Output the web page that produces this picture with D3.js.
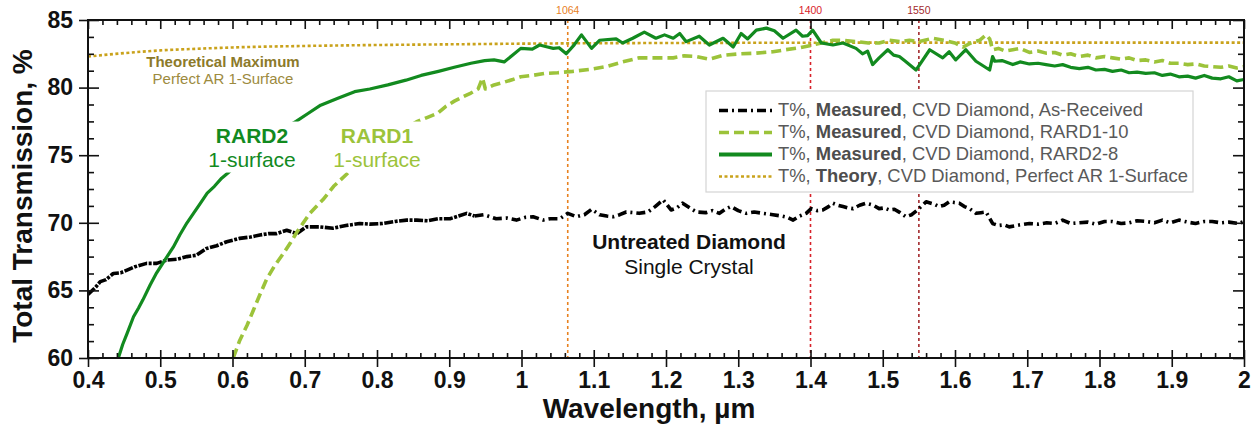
<!DOCTYPE html>
<html lang="en">
<head>
<meta charset="utf-8">
<title>CVD Diamond transmission, RARD</title>
<script src="https://cdnjs.cloudflare.com/ajax/libs/d3/7.8.5/d3.min.js"></script>
<style>
body { margin: 0; background: #fff; }
svg { font-family: "Liberation Sans", Arial, sans-serif; }
</style>
</head>
<body>
<script>
// Theory, perfect AR on 1 surface
var wlTheory = [0.4, 0.45, 0.5, 0.55, 0.6, 0.7, 0.8, 0.9, 1.0, 1.2, 1.4, 1.6, 1.8, 2.0];
var tTheory  = [82.3, 82.55, 82.75, 82.87, 82.97, 83.08, 83.15, 83.2, 83.25, 83.3, 83.32, 83.33, 83.33, 83.33];

// Measured, as-received
var wlAsRec = [0.4,0.41,0.417,0.425,0.435,0.445,0.454,0.465,0.481,0.495,0.509,0.523,0.537,0.55,0.564,0.578,0.592,0.61,0.625,0.638,0.65,0.661,0.675,0.689,0.702,0.72,0.739,0.757,0.776,0.79,0.808,0.825,0.841,0.855,0.87,0.885,0.901,0.913,0.924,0.935,0.948,0.965,0.98,0.993,1.005,1.016,1.03,1.04,1.053,1.064,1.076,1.087,1.097,1.108,1.118,1.127,1.136,1.145,1.155,1.163,1.175,1.185,1.196,1.207,1.215,1.223,1.233,1.242,1.255,1.264,1.274,1.282,1.29,1.3,1.311,1.322,1.334,1.348,1.36,1.368,1.376,1.385,1.394,1.401,1.409,1.417,1.425,1.431,1.438,1.445,1.452,1.459,1.468,1.477,1.487,1.495,1.502,1.509,1.516,1.524,1.532,1.54,1.548,1.555,1.56,1.57,1.578,1.585,1.592,1.599,1.606,1.613,1.62,1.629,1.636,1.643,1.652,1.66,1.668,1.675,1.69,1.703,1.715,1.727,1.738,1.749,1.76,1.772,1.784,1.795,1.807,1.818,1.83,1.841,1.852,1.864,1.876,1.887,1.898,1.91,1.922,1.933,1.945,1.956,1.968,1.979,1.993,2.0];
var tAsRec  = [64.7,65.2,65.65,65.8,66.25,66.3,66.5,66.75,67.0,67.0,67.25,67.3,67.5,67.6,68.1,68.3,68.6,68.85,68.95,69.1,69.2,69.2,69.45,69.2,69.7,69.7,69.6,69.8,69.95,69.9,69.95,70.1,70.2,70.2,70.15,70.3,70.3,70.5,70.7,70.5,70.6,70.3,70.35,70.2,70.4,70.45,70.2,70.3,70.3,70.7,70.45,70.6,71.0,70.6,70.5,70.45,70.6,70.8,70.75,70.7,70.8,71.2,71.7,70.95,71.1,71.45,71.1,70.8,70.75,70.9,70.7,71.0,71.2,70.9,70.7,70.8,70.7,70.6,70.5,70.4,70.2,70.5,70.7,71.05,70.9,70.95,71.2,71.45,71.3,71.2,71.1,71.05,71.3,71.45,71.3,71.05,71.1,70.95,71.0,70.75,70.45,70.6,70.95,71.3,71.55,71.4,71.2,71.3,71.55,71.5,71.45,71.2,71.05,70.7,70.75,70.8,69.95,69.8,69.85,69.7,69.85,69.95,69.9,70.0,69.95,70.2,69.95,70.0,70.05,69.9,70.1,70.1,69.95,70.0,70.15,70.1,70.0,70.2,70.0,70.2,70.05,69.95,70.1,70.1,70.0,70.05,69.95,70.1];

// Measured, RARD1-10
var wlRard1 = [0.601,0.61,0.62,0.629,0.638,0.647,0.658,0.67,0.68,0.689,0.698,0.707,0.716,0.725,0.74,0.76,0.78,0.8,0.82,0.84,0.856,0.87,0.884,0.895,0.907,0.918,0.93,0.94,0.946,0.95,0.962,0.976,0.988,0.999,1.015,1.032,1.05,1.071,1.095,1.117,1.14,1.163,1.185,1.21,1.225,1.242,1.26,1.28,1.302,1.325,1.348,1.365,1.385,1.403,1.415,1.431,1.445,1.463,1.48,1.495,1.509,1.525,1.537,1.55,1.569,1.585,1.6,1.611,1.622,1.634,1.643,1.648,1.652,1.66,1.67,1.68,1.69,1.703,1.715,1.726,1.738,1.749,1.76,1.772,1.784,1.795,1.807,1.818,1.83,1.841,1.852,1.864,1.876,1.887,1.898,1.91,1.922,1.933,1.945,1.956,1.968,1.979,1.99,2.0];
var tRard1  = [60,61.3,62.4,63.55,64.7,65.8,66.8,67.7,68.5,69.3,70.0,70.7,71.2,71.7,72.7,73.7,74.7,75.6,76.3,77.0,77.5,77.8,78.1,78.6,79.0,79.3,79.6,79.9,80.7,79.9,80.2,80.4,80.6,80.8,80.9,81.05,81.1,81.2,81.35,81.55,81.9,82.2,82.2,82.2,82.35,82.3,82.1,82.4,82.5,82.55,82.65,82.8,82.95,83.15,83.3,83.5,83.5,83.4,83.3,83.3,83.5,83.4,83.5,83.4,83.65,83.5,83.3,83.0,83.3,83.5,83.9,83.6,82.8,82.9,82.7,82.8,82.9,82.6,82.7,82.55,82.6,82.4,82.5,82.3,82.4,82.2,82.3,82.2,82.1,82.2,82.0,82.05,81.9,82.0,81.8,81.8,81.7,81.75,81.6,81.55,81.5,81.6,81.45,81.55];

// Measured, RARD2-8
var wlRard2 = [0.442,0.448,0.454,0.463,0.47,0.476,0.486,0.495,0.507,0.518,0.527,0.537,0.546,0.555,0.565,0.575,0.585,0.594,0.62,0.64,0.66,0.675,0.688,0.705,0.722,0.745,0.769,0.79,0.815,0.84,0.861,0.885,0.907,0.93,0.949,0.962,0.976,0.99,0.999,1.015,1.025,1.036,1.044,1.052,1.062,1.072,1.083,1.097,1.108,1.131,1.14,1.154,1.17,1.186,1.198,1.21,1.219,1.228,1.246,1.26,1.279,1.293,1.304,1.313,1.325,1.339,1.35,1.362,1.38,1.389,1.396,1.403,1.415,1.431,1.445,1.463,1.472,1.479,1.486,1.495,1.507,1.515,1.523,1.53,1.546,1.565,1.583,1.592,1.601,1.615,1.629,1.648,1.652,1.655,1.665,1.68,1.69,1.703,1.715,1.726,1.738,1.749,1.76,1.772,1.784,1.795,1.807,1.818,1.83,1.841,1.852,1.864,1.876,1.887,1.898,1.91,1.922,1.933,1.945,1.956,1.968,1.979,1.99,2.0];
var tRard2  = [60,61.0,61.8,63.05,63.7,64.3,65.4,66.3,67.3,68.2,69.1,70.0,70.7,71.4,72.2,72.7,73.3,73.7,75.0,75.9,76.7,77.1,77.5,78.1,78.7,79.2,79.7,79.9,80.2,80.55,80.9,81.2,81.5,81.8,82.0,82.05,81.9,82.5,82.9,82.85,83.15,83.0,82.9,82.95,82.5,83.1,83.9,82.9,83.5,83.6,83.3,83.65,84.1,83.65,83.9,83.65,84.0,83.4,83.8,83.15,83.65,83.0,84.0,83.6,84.25,84.4,84.2,83.65,84.25,83.8,83.85,84.25,83.3,83.15,83.3,82.9,82.5,82.7,81.7,82.2,82.8,82.4,82.3,82.0,81.3,82.8,82.2,82.65,82.05,82.8,81.95,81.3,82.3,81.95,82.0,81.7,81.9,81.75,81.8,81.7,81.6,81.7,81.5,81.4,81.5,81.3,81.35,81.2,81.3,81.1,81.15,81.05,81.1,80.9,81.0,80.8,80.85,80.7,80.9,80.7,80.65,80.8,80.5,80.6];

// laser lines, nm
var laserNm = [1064, 1400, 1550];
var laserColors = ["#e8811f", "#d8222a", "#a3292d"];

var xMajor = d3.range(4, 21).map(function(d) { return d / 10; });
var xMinor = d3.range(20, 101).filter(function(d) { return d % 5 != 0; }).map(function(d) { return d / 50; });
var yMajor = [60, 65, 70, 75, 80, 85];
var yMinor = d3.range(48, 69).filter(function(d) { return d % 4 != 0; }).map(function(d) { return d * 1.25; });

var w = 1255, h = 425;
var x0 = 88, x1 = 1244, y0 = 358, y1 = 20;

var x = d3.scaleLinear().domain([0.4, 2]).range([x0, x1]);
var y = d3.scaleLinear().domain([60, 85]).range([y0, y1]);

var svg = d3.select("body").append("svg")
  .attr("width", w)
  .attr("height", h);

svg.append("clipPath").attr("id", "plotclip")
  .append("rect").attr("x", x0).attr("y", y1).attr("width", x1 - x0).attr("height", y0 - y1);

var zip = function(a, b) { return a.map(function(v, i) { return [v, b[i]]; }); };
var line = d3.line().x(function(d) { return x(d[0]); }).y(function(d) { return y(d[1]); });
var smooth = d3.line().curve(d3.curveMonotoneX).x(function(d) { return x(d[0]); }).y(function(d) { return y(d[1]); });

//laser reference lines
laserNm.forEach(function(nm, i) {
  svg.append("line")
    .attr("x1", x(nm / 1000)).attr("x2", x(nm / 1000))
    .attr("y1", y1).attr("y2", y0)
    .attr("stroke", laserColors[i])
    .attr("stroke-width", 1.6)
    .attr("stroke-dasharray", "3,3");
  svg.append("text")
    .attr("x", x(nm / 1000)).attr("y", 11)
    .attr("text-anchor", "middle")
    .attr("dominant-baseline", "middle")
    .attr("font-size", "10.5px")
    .attr("fill", laserColors[i])
    .text(nm);
});

var series = [
  { data: zip(wlTheory, tTheory), color: "#c9a21b", width: 2.6, dash: "3,2.5", path: smooth },
  { data: zip(wlAsRec, tAsRec), color: "#000", width: 3.6, dash: "9,4,2,4", path: line },
  { data: zip(wlRard1, tRard1), color: "#9cc33a", width: 3.6, dash: "10,5", path: line },
  { data: zip(wlRard2, tRard2), color: "#128a1f", width: 3.2, dash: null, path: line }
];

var plot = svg.append("g").attr("clip-path", "url(#plotclip)");
series.forEach(function(s, i) {
  var parts = [s.data];
  var dashes = [s.dash];
  // the densely sampled short-wave part of the as-received scan reads as an almost solid line
  if (i == 1) {
    parts = [s.data.filter(function(d) { return d[0] <= 0.935; }), s.data.filter(function(d) { return d[0] >= 0.935; })];
    dashes = ["9,1.5,3,1.5", s.dash];
  }
  parts.forEach(function(p, j) {
    plot.append("path")
      .attr("d", s.path(p))
      .attr("fill", "none")
      .attr("stroke", s.color)
      .attr("stroke-width", s.width)
      .attr("stroke-linejoin", "round")
      .attr("stroke-dasharray", dashes[j]);
  });
});

// two-line annotations, with a white backing where they sit on a curve
function note(cx, cy, gap, size, lines, colors, backed) {
  var g = svg.append("g");
  lines.forEach(function(t, i) {
    g.append("text")
      .attr("x", cx).attr("y", cy + i * gap)
      .attr("text-anchor", "middle")
      .attr("dominant-baseline", "middle")
      .attr("font-size", size + "px")
      .attr("font-weight", i == 0 ? "bold" : "normal")
      .attr("fill", colors[i])
      .text(t);
  });
  if (backed) {
    var b = g.node().getBBox();
    g.insert("rect", "text")
      .attr("x", b.x - 4).attr("y", b.y - 2)
      .attr("width", b.width + 8).attr("height", b.height + 4)
      .attr("fill", "#fff");
  }
}
note(223, 63, 17, 15, ["Theoretical Maximum", "Perfect AR 1-Surface"], ["#8c7a2a", "#9c8a3e"], false);
note(252, 137, 24, 21, ["RARD2", "1-surface"], ["#128a1f", "#128a1f"], true);
note(377, 137, 24, 21, ["RARD1", "1-surface"], ["#9cc33a", "#9cc33a"], true);
note(689, 243, 25, 21, ["Untreated Diamond", "Single Crystal"], ["#111", "#111"], false);

// legend
var legendRows = [
  { bold: "Measured", rest: ", CVD Diamond, As-Received", s: series[1] },
  { bold: "Measured", rest: ", CVD Diamond, RARD1-10", s: series[2] },
  { bold: "Measured", rest: ", CVD Diamond, RARD2-8", s: series[3] },
  { bold: "Theory", rest: ", CVD Diamond, Perfect AR 1-Surface", s: series[0] }
];
var lg = svg.append("g");
lg.append("rect")
  .attr("x", 706).attr("y", 91).attr("width", 487).attr("height", 101)
  .attr("fill", "#fff").attr("stroke", "#d4d4d4").attr("stroke-width", 1.2);
legendRows.forEach(function(r, i) {
  var ly = 110.5 + i * 22;
  lg.append("line")
    .attr("x1", 719).attr("x2", 772).attr("y1", ly).attr("y2", ly)
    .attr("stroke", r.s.color)
    .attr("stroke-width", i == 2 ? 4 : r.s.width)
    .attr("stroke-dasharray", r.s.dash);
  var t = lg.append("text")
    .attr("x", 778).attr("y", ly)
    .attr("dominant-baseline", "middle")
    .attr("font-size", "18.4px")
    .attr("fill", "#595959");
  t.append("tspan").text("T%, ");
  t.append("tspan").attr("font-weight", "bold").attr("fill", "#4d4d4d").text(r.bold);
  t.append("tspan").text(r.rest);
});

// axes
function styleAxis(g) {
  g.select(".domain").remove();
  g.selectAll(".tick line").attr("stroke", "#111").attr("stroke-width", 1.6);
  g.selectAll(".tick text").attr("fill", "#111").attr("font-size", "23px").attr("font-weight", "bold")
    .attr("font-family", "Liberation Sans, Arial, sans-serif");
}
var fmt = d3.format("~g");
svg.append("g").attr("transform", "translate(0," + y0 + ")")
  .call(d3.axisBottom(x).tickValues(xMajor).tickSize(9).tickPadding(5).tickFormat(fmt)).call(styleAxis);
svg.append("g").attr("transform", "translate(0," + y0 + ")")
  .call(d3.axisTop(x).tickValues(xMajor).tickSize(8).tickFormat("")).call(styleAxis);
svg.append("g").attr("transform", "translate(0," + y0 + ")")
  .call(d3.axisTop(x).tickValues(xMinor).tickSize(5).tickFormat("")).call(styleAxis);
svg.append("g").attr("transform", "translate(0," + y1 + ")")
  .call(d3.axisBottom(x).tickValues(xMajor).tickSize(9).tickFormat("")).call(styleAxis);
svg.append("g").attr("transform", "translate(0," + y1 + ")")
  .call(d3.axisBottom(x).tickValues(xMinor).tickSize(5).tickFormat("")).call(styleAxis);

svg.append("g").attr("transform", "translate(" + x0 + ",0)")
  .call(d3.axisLeft(y).tickValues(yMajor).tickSize(9).tickPadding(6).tickFormat(fmt)).call(styleAxis);
svg.append("g").attr("transform", "translate(" + x0 + ",0)")
  .call(d3.axisRight(y).tickValues(yMajor).tickSize(11).tickFormat("")).call(styleAxis);
svg.append("g").attr("transform", "translate(" + x0 + ",0)")
  .call(d3.axisRight(y).tickValues(yMinor).tickSize(6).tickFormat("")).call(styleAxis);
svg.append("g").attr("transform", "translate(" + x1 + ",0)")
  .call(d3.axisLeft(y).tickValues(yMajor).tickSize(11).tickFormat("")).call(styleAxis);
svg.append("g").attr("transform", "translate(" + x1 + ",0)")
  .call(d3.axisLeft(y).tickValues(yMinor).tickSize(6).tickFormat("")).call(styleAxis);

svg.append("rect")
  .attr("x", x0).attr("y", y1).attr("width", x1 - x0).attr("height", y0 - y1)
  .attr("fill", "none").attr("stroke", "#111").attr("stroke-width", 2);

svg.append("text")
  .attr("x", 649).attr("y", 411)
  .attr("text-anchor", "middle").attr("dominant-baseline", "middle")
  .attr("font-size", "28px").attr("font-weight", "bold").attr("fill", "#111")
  .text("Wavelength, µm");
svg.append("text")
  .attr("transform", "translate(25,196) rotate(-90)")
  .attr("text-anchor", "middle").attr("dominant-baseline", "middle")
  .attr("font-size", "28px").attr("font-weight", "bold").attr("fill", "#111")
  .text("Total Transmission, %");
</script>
</body>
</html>
